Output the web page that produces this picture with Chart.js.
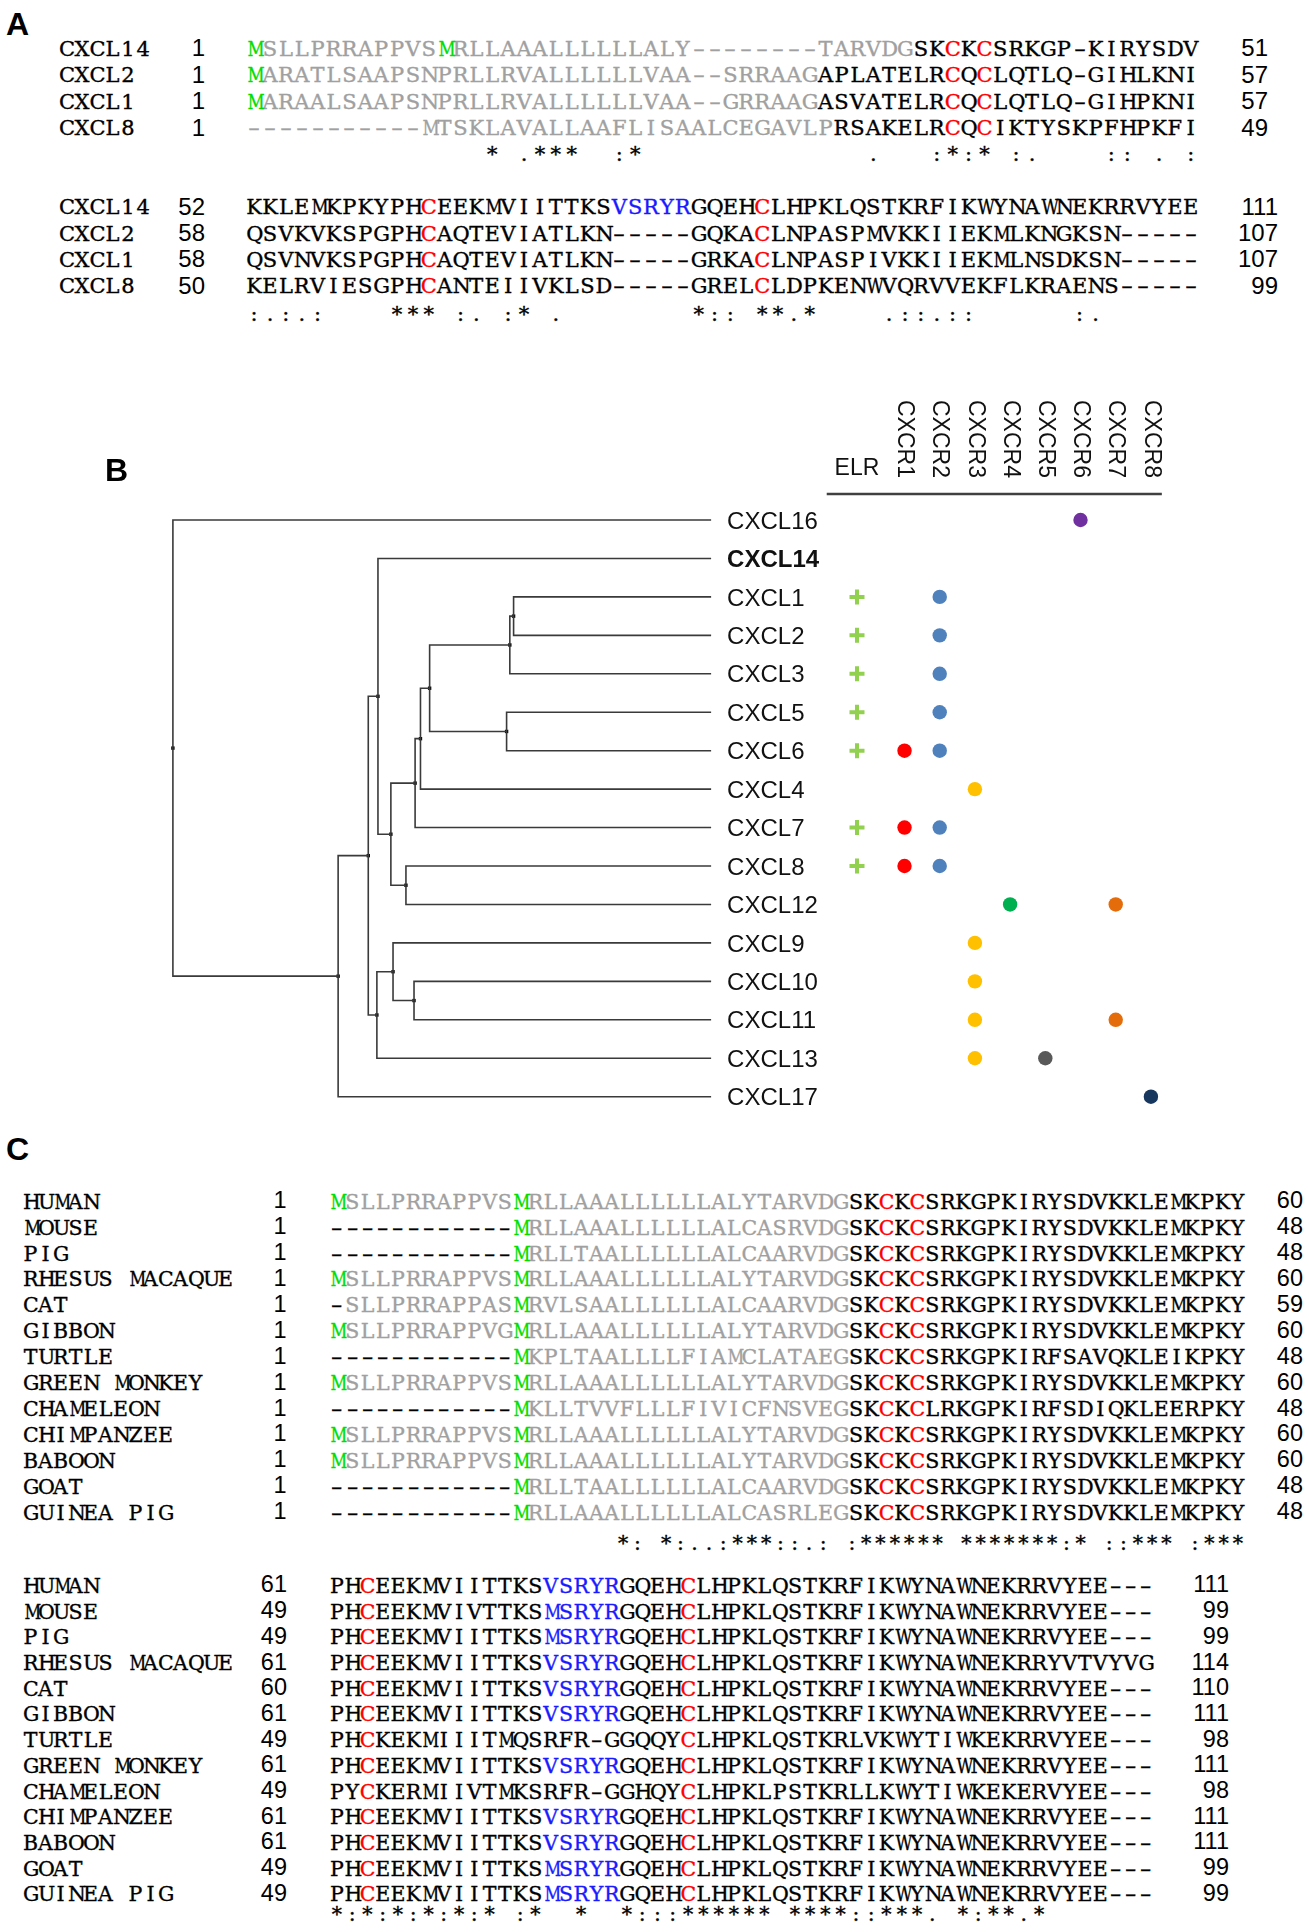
<!DOCTYPE html>
<html>
<head>
<meta charset="utf-8">
<script src="https://cdn.jsdelivr.net/npm/chart.js@4.4.0/dist/chart.umd.min.js"></script>
<style>
  html, body { margin: 0; padding: 0; background: #fff; }
  #fig { position: relative; width: 1309px; height: 1932px; overflow: hidden; background: #fff; }
  .t { position: absolute; white-space: pre; line-height: 1; color: #000; }
  .t i { display: inline-block; font-style: normal; text-align: center; -webkit-text-stroke: 0.35px currentColor; }
  .t i.d { transform: scaleX(1.7); }
  .t i.w { transform: scaleX(0.8); }
  .lab { font-family: 'Liberation Sans', Arial, sans-serif; font-weight: bold; font-size: 32px; }
  .g { color: #a0a0a0; }
  .m { color: #00dd00; }
  .r { color: #ff0000; }
  .b { color: #1a1aff; }
  #treeCanvas { position: absolute; left: 0; top: 380px; }
</style>
</head>
<body>
<div id="fig">
  <canvas id="treeCanvas" width="1309" height="750"></canvas>
  <div class="t lab" style="left:6px;top:8px">A</div>
  <div class="t lab" style="left:105px;top:454px">B</div>
  <div class="t lab" style="left:6px;top:1133px">C</div>
</div>
<script>
// ---------- panel A: CXCL14 against CXCL2 / CXCL1 / CXCL8 ----------
const aNames = ['CXCL14', 'CXCL2', 'CXCL1', 'CXCL8'];
const aSeq1 = [
  'MSLLPRRAPPVSMRLLAAALLLLLLALY--------TARVDGSKCKCSRKGP-KIRYSDV',
  'MARATLSAAPSNPRLLRVALLLLLLVAA--SRRAAGAPLATELRCQCLQTLQ-GIHLKNI',
  'MARAALSAAPSNPRLLRVALLLLLLVAA--GRRAAGASVATELRCQCLQTLQ-GIHPKNI',
  '-----------MTSKLAVALLAAFLISAALCEGAVLPRSAKELRCQCIKTYSKPFHPKFI'
];
const aSeq2 = [
  'KKLEMKPKYPHCEEKMVIITTKSVSRYRGQEHCLHPKLQSTKRFIKWYNAWNEKRRVYEE',
  'QSVKVKSPGPHCAQTEVIATLKN-----GQKACLNPASPMVKKIIEKMLKNGKSN-----',
  'QSVNVKSPGPHCAQTEVIATLKN-----GRKACLNPASPIVKKIIEKMLNSDKSN-----',
  'KELRVIESGPHCANTEIIVKLSD-----GRELCLDPKENWVQRVVEKFLKRAENS-----'
];
const aStart1 = [1, 1, 1, 1];
const aEnd1 = [51, 57, 57, 49];
const aStart2 = [52, 58, 58, 50];
const aEnd2 = [111, 107, 107, 99];
const aMatureFrom = [43, 37, 37, 38];          // first column of the mature chain
const aStartM = [[1, 13], [1], [1], []];       // highlighted start methionines
const aCys1 = [45, 47];
const aCys2 = [12, 33];
const aMotif2 = [24, 28];                      // VSRYR in CXCL14 only
const aCons1 = ' '.repeat(15) + '* .***  :*' + ' '.repeat(14) + '.   :*:* :.    :: . :';
const aCons2 = ':.:.:    *** :. :* .' + ' '.repeat(8) + '*:: **.*    .::.::      :.';

// ---------- panel C: CXCL14 orthologues ----------
const cNames = ['HUMAN', 'MOUSE', 'PIG', 'RHESUS MACAQUE', 'CAT', 'GIBBON', 'TURTLE',
  'GREEN MONKEY', 'CHAMELEON', 'CHIMPANZEE', 'BABOON', 'GOAT', 'GUINEA PIG'];
const cSeq1 = [
  'MSLLPRRAPPVSMRLLAAALLLLLLALYTARVDGSKCKCSRKGPKIRYSDVKKLEMKPKY',
  '------------MRLLAAALLLLLLALCASRVDGSKCKCSRKGPKIRYSDVKKLEMKPKY',
  '------------MRLLTAALLLLLLALCAARVDGSKCKCSRKGPKIRYSDVKKLEMKPKY',
  'MSLLPRRAPPVSMRLLAAALLLLLLALYTARVDGSKCKCSRKGPKIRYSDVKKLEMKPKY',
  '-SLLPRRAPPASMRVLSAALLLLLLALCAARVDGSKCKCSRKGPKIRYSDVKKLEMKPKY',
  'MSLLPRRAPPVGMRLLAAALLLLLLALYTARVDGSKCKCSRKGPKIRYSDVKKLEMKPKY',
  '------------MKPLTAALLLLFIAMCLATAEGSKCKCSRKGPKIRFSAVQKLEIKPKY',
  'MSLLPRRAPPVSMRLLAAALLLLLLALYTARVDGSKCKCSRKGPKIRYSDVKKLEMKPKY',
  '------------MKLLTVVFLLLFIVICFNSVEGSKCKCLRKGPKIRFSDIQKLEERPKY',
  'MSLLPRRAPPVSMRLLAAALLLLLLALYTARVDGSKCKCSRKGPKIRYSDVKKLEMKPKY',
  'MSLLPRRAPPVSMRLLAAALLLLLLALYTARVDGSKCKCSRKGPKIRYSDVKKLEMKPKY',
  '------------MRLLTAALLLLLLALCAARVDGSKCKCSRKGPKIRYSDVKKLEMKPKY',
  '------------MRLLAAALLLLLLALCASRLEGSKCKCSRKGPKIRYSDVKKLEMKPKY'
];
const cSeq2 = [
  'PHCEEKMVIITTKSVSRYRGQEHCLHPKLQSTKRFIKWYNAWNEKRRVYEE---',
  'PHCEEKMVIVTTKSMSRYRGQEHCLHPKLQSTKRFIKWYNAWNEKRRVYEE---',
  'PHCEEKMVIITTKSMSRYRGQEHCLHPKLQSTKRFIKWYNAWNEKRRVYEE---',
  'PHCEEKMVIITTKSVSRYRGQEHCLHPKLQSTKRFIKWYNAWNEKRRYVTVYVG',
  'PHCEEKMVIITTKSVSRYRGQEHCLHPKLQSTKRFIKWYNAWNEKRRVYEE---',
  'PHCEEKMVIITTKSVSRYRGQEHCLHPKLQSTKRFIKWYNAWNEKRRVYEE---',
  'PHCKEKMIIITMQSRFR-GGQQYCLHPKLQSTKRLVKWYTIWKEKRRVYEE---',
  'PHCEEKMVIITTKSVSRYRGQEHCLHPKLQSTKRFIKWYNAWNEKRRVYEE---',
  'PYCKERMIIVTMKSRFR-GGHQYCLHPKLPSTKRLLKWYTIWKEKERVYEE---',
  'PHCEEKMVIITTKSVSRYRGQEHCLHPKLQSTKRFIKWYNAWNEKRRVYEE---',
  'PHCEEKMVIITTKSVSRYRGQEHCLHPKLQSTKRFIKWYNAWNEKRRVYEE---',
  'PHCEEKMVIITTKSMSRYRGQEHCLHPKLQSTKRFIKWYNAWNEKRRVYEE---',
  'PHCEEKMVIITTKSMSRYRGQEHCLHPKLQSTKRFIKWYNAWNEKRRVYEE---'
];
const cStart1 = [1, 1, 1, 1, 1, 1, 1, 1, 1, 1, 1, 1, 1];
const cEnd1 = [60, 48, 48, 60, 59, 60, 48, 60, 48, 60, 60, 48, 48];
const cStart2 = [61, 49, 49, 61, 60, 61, 49, 61, 49, 61, 61, 49, 49];
const cEnd2 = [111, 99, 99, 114, 110, 111, 98, 111, 98, 111, 111, 99, 99];
const cMatureFrom = 35;
const cStartM = [1, 13];
const cCys1 = [37, 39];
const cCys2 = [3, 24];
const cMotif2 = [15, 19];
const cNoMotif = ['TURTLE', 'CHAMELEON'];
const cCons1 = '*: *:..:***::.: :****** *******:* ::*** :***';
const cCons2 = '*:*:*:*:*:* :*  *  *:::****** ****::***. *:**.*';

// ---------- panel B: CXC chemokine tree and receptor usage ----------
const ligands = ['CXCL16', 'CXCL14', 'CXCL1', 'CXCL2', 'CXCL3', 'CXCL5', 'CXCL6', 'CXCL4',
  'CXCL7', 'CXCL8', 'CXCL12', 'CXCL9', 'CXCL10', 'CXCL11', 'CXCL13', 'CXCL17'];
const elrLigands = ['CXCL1', 'CXCL2', 'CXCL3', 'CXCL5', 'CXCL6', 'CXCL7', 'CXCL8'];
const receptors = ['CXCR1', 'CXCR2', 'CXCR3', 'CXCR4', 'CXCR5', 'CXCR6', 'CXCR7', 'CXCR8'];
const receptorColors = ['#ff0000', '#4f81bd', '#ffc000', '#00b050', '#595959', '#7030a0', '#e46c0a', '#17375e'];
// receptor numbers bound by each ligand, same order as ligands
const bindings = [[6], [], [2], [2], [2], [2], [1, 2], [3], [1, 2], [1, 2], [4, 7], [3], [3], [3, 7], [3, 5], [8]];
// internal nodes of the tree, their two children and distance from the root (leaves = 1)
const treeNodes = ['n12', 'n123', 'n56', 'nA', 'nB', 'nC', 'n812', 'nD', 'nE', 'n1011', 'nF', 'nG', 'nH', 'nI', 'root'];
const treeChildren = [['CXCL1', 'CXCL2'], ['n12', 'CXCL3'], ['CXCL5', 'CXCL6'], ['n123', 'n56'], ['nA', 'CXCL4'],
  ['nB', 'CXCL7'], ['CXCL8', 'CXCL12'], ['nC', 'n812'], ['CXCL14', 'nD'], ['CXCL10', 'CXCL11'],
  ['CXCL9', 'n1011'], ['nF', 'CXCL13'], ['nE', 'nG'], ['nH', 'CXCL17'], ['CXCL16', 'nI']];
const treeDepth = [0.633, 0.626, 0.620, 0.477, 0.460, 0.450, 0.433, 0.405, 0.381, 0.448, 0.409, 0.379, 0.363, 0.307, 0];

// ================= alignments as text =================
const fig = document.getElementById('fig');
const SERIF = "'DejaVu Serif','Liberation Serif',serif";
const SANS = "'Liberation Sans',Arial,sans-serif";
const BASELINE = { serif: 0.846, sans: 0.8465 };

function place(html, o) {
  const el = document.createElement('div');
  el.className = 't';
  el.style.fontFamily = o.sans ? SANS : SERIF;
  el.style.fontSize = o.size + 'px';
  // line-height 1: put the baseline where we want it
  el.style.top = (o.y - (o.sans ? BASELINE.sans : BASELINE.serif) * o.size) + 'px';
  if (o.right != null) el.style.right = (1309 - o.right) + 'px';
  else el.style.left = o.x + 'px';
  el.innerHTML = html;
  fig.appendChild(el);
}

// every residue in a fixed-width cell, like the monospaced original
function grid(s, cw, colorOf) {
  let out = '';
  for (let i = 0; i < s.length; i++) {
    const ch = s[i];
    const cls = [
      colorOf ? colorOf(i + 1, ch) : null,
      ch === '-' ? 'd' : null,
      (ch === 'M' || ch === 'W') ? 'w' : null
    ].filter(Boolean).join(' ');
    out += `<i style="width:${cw}px"${cls ? ` class="${cls}"` : ''}>${ch === ' ' ? '&nbsp;' : ch}</i>`;
  }
  return out;
}

function drawBlock(b) {
  b.seqs.forEach((s, i) => {
    const y = b.y0 + i * b.pitch;
    place(grid(b.names[i], b.nameCell), { x: b.nameX, y, size: b.fontSize });
    place(String(b.starts[i]), { right: b.startRight, y, size: b.numSize, sans: true });
    place(grid(s, b.cell, (col, ch) => b.color(i, col, ch)), { x: b.seqX, y, size: b.fontSize });
    place(String(b.ends[i]), { right: b.endRight, y, size: b.numSize, sans: true });
  });
  place(grid(b.cons, b.consCell || b.cell), { x: b.consX != null ? b.consX : b.seqX, y: b.consY, size: b.fontSize });
}

const inRange = (c, r) => c >= r[0] && c <= r[1];

drawBlock({
  names: aNames, seqs: aSeq1, starts: aStart1, ends: aEnd1, cons: aCons1,
  y0: 56.7, pitch: 26.4, consY: 162,
  nameX: 59, nameCell: 15.3, fontSize: 21, startRight: 205, numSize: 24,
  seqX: 246.2, cell: 15.88, endRight: 1268,
  color: (row, col) => {
    if (aCys1.includes(col)) return 'r';
    if (col < aMatureFrom[row]) return aStartM[row].includes(col) ? 'm' : 'g';
    return null;
  }
});
drawBlock({
  names: aNames, seqs: aSeq2, starts: aStart2, ends: aEnd2, cons: aCons2,
  y0: 215, pitch: 26.4, consY: 321.5,
  nameX: 59, nameCell: 15.3, fontSize: 21, startRight: 205, numSize: 24,
  seqX: 246.2, cell: 15.88, endRight: 1278,
  color: (row, col) => {
    if (aCys2.includes(col)) return 'r';
    if (row === 0 && inRange(col, aMotif2)) return 'b';
    return null;
  }
});
drawBlock({
  names: cNames, seqs: cSeq1, starts: cStart1, ends: cEnd1, cons: cCons1,
  y0: 1209, pitch: 25.93, consY: 1550, consX: 616, consCell: 14.3,
  nameX: 23, nameCell: 15.0, fontSize: 20.5, startRight: 286.5, numSize: 23.5,
  seqX: 329.3, cell: 15.27, endRight: 1303,
  color: (row, col, ch) => {
    if (cCys1.includes(col)) return 'r';
    if (ch === '-') return null;
    if (col < cMatureFrom) return (cStartM.includes(col) && ch === 'M') ? 'm' : 'g';
    return null;
  }
});
drawBlock({
  names: cNames, seqs: cSeq2, starts: cStart2, ends: cEnd2, cons: cCons2,
  y0: 1593.3, pitch: 25.7, consY: 1921,
  nameX: 23, nameCell: 15.0, fontSize: 20.5, startRight: 287, numSize: 23.5,
  seqX: 329.3, cell: 15.27, endRight: 1229,
  color: (row, col) => {
    if (cCys2.includes(col)) return 'r';
    if (!cNoMotif.includes(cNames[row]) && inRange(col, cMotif2)) return 'b';
    return null;
  }
});

// ================= panel B with Chart.js =================
const childMap = {};
treeNodes.forEach((n, i) => { childMap[n] = { kids: treeChildren[i], depth: treeDepth[i] }; });
const depthOf = n => childMap[n] ? childMap[n].depth : 1;
function rowOf(n) {
  if (!childMap[n]) return ligands.indexOf(n);
  const [a, b] = childMap[n].kids;
  return (rowOf(a) + rowOf(b)) / 2;
}

const elbowSets = treeNodes.map((n, i) => {
  const [a, b] = treeChildren[i];
  return {
    xAxisID: 'x', yAxisID: 'y', showLine: true, clip: false,
    data: [
      { x: depthOf(a), y: rowOf(a) }, { x: treeDepth[i], y: rowOf(a) },
      { x: treeDepth[i], y: rowOf(b) }, { x: depthOf(b), y: rowOf(b) }
    ],
    borderColor: '#3a3a3a', borderWidth: 1.6, pointRadius: 0, tension: 0
  };
});

const nodeSet = {
  xAxisID: 'x', yAxisID: 'y', clip: false,
  data: treeNodes.map((n, i) => ({ x: treeDepth[i], y: rowOf(n) })),
  pointStyle: 'rect', pointRadius: 2.4, backgroundColor: '#000', borderWidth: 0
};

const elrCol = -0.35; // the ELR column sits a bit left of the receptor grid
const elrSet = {
  xAxisID: 'xr', yAxisID: 'y', clip: false,
  data: elrLigands.map(l => ({ x: elrCol, y: ligands.indexOf(l) })),
  pointStyle: 'cross', pointRadius: 7.5, borderWidth: 4, borderColor: '#92d050'
};

const receptorSets = receptors.map((r, k) => ({
  xAxisID: 'xr', yAxisID: 'y', clip: false,
  data: ligands.map((l, i) => bindings[i].includes(k + 1) ? { x: k + 1, y: i } : null).filter(Boolean),
  pointStyle: 'circle', pointRadius: 7.2, borderWidth: 0, backgroundColor: receptorColors[k]
}));

const labelPlugin = {
  id: 'treeText',
  afterDraw(chart) {
    const { ctx } = chart;
    const x = chart.scales.x, xr = chart.scales.xr, y = chart.scales.y;
    ctx.save();
    ctx.fillStyle = '#111';
    ctx.textBaseline = 'middle';
    ctx.textAlign = 'left';
    ligands.forEach((l, i) => {
      ctx.font = (l === 'CXCL14' ? 'bold ' : '') + "24px 'Liberation Sans', Arial, sans-serif";
      ctx.fillText(l, x.getPixelForValue(1) + 16, y.getPixelForValue(i) + 2);
    });
    // header of the receptor grid
    ctx.font = "23px 'Liberation Sans', Arial, sans-serif";
    ctx.textAlign = 'center';
    ctx.textBaseline = 'alphabetic';
    ctx.fillText('ELR', xr.getPixelForValue(elrCol), 95);
    receptors.forEach((r, k) => {
      ctx.save();
      ctx.translate(xr.getPixelForValue(k + 1), 20);
      ctx.rotate(Math.PI / 2);
      ctx.textAlign = 'left';
      ctx.textBaseline = 'middle';
      ctx.fillText(r, 0, 0);
      ctx.restore();
    });
    ctx.strokeStyle = '#404040';
    ctx.lineWidth = 2.5;
    ctx.beginPath();
    ctx.moveTo(xr.getPixelForValue(-1.21), 114);
    ctx.lineTo(xr.getPixelForValue(8.31), 114);
    ctx.stroke();
    ctx.restore();
  }
};

new Chart(document.getElementById('treeCanvas'), {
  type: 'scatter',
  data: { datasets: [...elbowSets, nodeSet, elrSet, ...receptorSets] },
  options: {
    responsive: false,
    animation: false,
    devicePixelRatio: 1,
    layout: { padding: { left: 172.9, right: 129, top: 120.8, bottom: 14.1 } },
    plugins: { legend: { display: false }, tooltip: { enabled: false } },
    scales: {
      x: { type: 'linear', axis: 'x', min: 0, max: 1.8712, display: false },
      xr: { type: 'linear', axis: 'x', min: -19.784, max: 8.826, display: false },
      y: { type: 'linear', min: -0.5, max: 15.5, reverse: true, display: false }
    }
  },
  plugins: [labelPlugin]
});
</script>
</body>
</html>
